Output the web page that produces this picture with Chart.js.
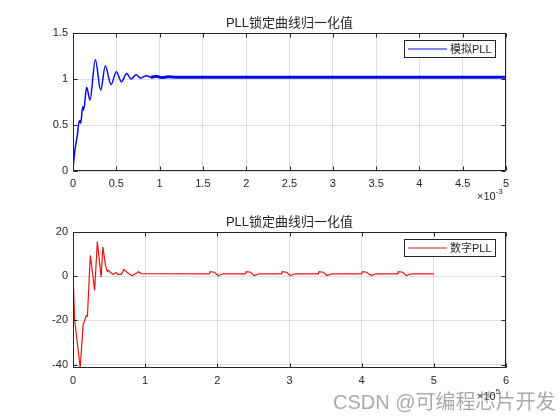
<!DOCTYPE html>
<html>
<head>
<meta charset="utf-8">
<script src="https://cdn.jsdelivr.net/npm/chart.js@4"></script>
<style>
  body { margin: 0; background: #fff; }
  #fig { position: relative; width: 560px; height: 420px; }
  canvas { position: absolute; left: 0; }
  #wm { position: absolute; left: 333px; top: 386px; font: 20px "Liberation Sans", "Noto Sans CJK SC", sans-serif;
        color: rgba(140,140,140,0.75); white-space: nowrap; }
</style>
</head>
<body>
<div id="fig">
  <canvas id="anaChart" width="560" height="210" style="top:0"></canvas>
  <canvas id="digChart" width="560" height="210" style="top:210px"></canvas>
  <div id="wm">CSDN @可编程芯片开发</div>
</div>
<script>
// data (x atas dalam 1e-3 s, x bawah dalam 1e5)
const titleText = 'PLL锁定曲线归一化值';

const anaX = [0, 0.027, 0.05, 0.066, 0.08, 0.089, 0.112, 0.123, 0.158, 0.196, 0.258, 0.32, 0.373, 0.44, 0.5, 0.56, 0.62, 0.67, 0.73, 0.78, 0.85, 0.9, 0.96, 1.02, 1.1, 1.2, 5];
const anaY = [0.03, 0.26, 0.39, 0.52, 0.55, 0.52, 0.70, 0.66, 0.91, 0.77, 1.21, 0.88, 1.14, 0.94, 1.08, 0.97, 1.06, 1.0, 1.045, 1.01, 1.035, 1.02, 1.03, 1.015, 1.025, 1.018, 1.018];
const anaXTicks = [0, 0.5, 1, 1.5, 2, 2.5, 3, 3.5, 4, 4.5, 5];
const anaYTicks = [0, 0.5, 1, 1.5];

const digX = [0, 0.023, 0.1, 0.14, 0.185, 0.2, 0.24, 0.30, 0.337, 0.39, 0.415, 0.45, 0.475, 0.49, 0.52, 0.554, 0.6, 0.62, 0.67, 0.706, 0.74, 0.785, 0.817, 0.85, 0.91, 0.946,
  1.89, 1.9, 1.96, 2.01, 2.08, 2.39, 2.4, 2.46, 2.51, 2.58, 2.89, 2.9, 2.96, 3.01, 3.08,
  3.40, 3.41, 3.47, 3.52, 3.59, 4.0, 4.01, 4.07, 4.13, 4.2, 4.5, 4.51, 4.57, 4.62, 4.69, 5.0];
const digY = [1, -19.7, -41.5, -22, -17.8, -18, 9.4, -6.3, 15.7, -0.3, 13.2, 4.9, 2.2, 2.7, 1.7, 0.9, 1.7, 0.8, 0.8, 3.1, 2, 0.9, 0.3, 0.8, 2, 1.2,
  1.1, 2.1, 1.8, 0.3, 1.1, 1.1, 2.1, 1.8, 0.3, 1.1, 1.1, 2.1, 1.8, 0.3, 1.1,
  1.1, 2.1, 1.8, 0.3, 1.1, 1.1, 2.1, 1.8, 0.3, 1.1, 1.1, 2.1, 1.8, 0.3, 1.1, 1.1];
const digXTicks = [0, 1, 2, 3, 4, 5, 6];
const digYTicks = [-40, -20, 0, 20];

const axCol = '#262626';
const gridCol = 'rgba(38,38,38,0.15)';
const fam = '"Liberation Sans", "Noto Sans CJK SC", sans-serif';

// kotak, tick ke dalam, judul, legenda, eksponen
const framePlugin = {
  id: 'frame',
  afterDraw(chart, args, opts) {
    const { ctx, chartArea: a, scales: { x, y } } = chart;
    ctx.save();
    ctx.strokeStyle = axCol;
    ctx.lineWidth = 1;
    const L = Math.round(a.left) + 0.5, R = Math.round(a.right) - 0.5;
    const T = Math.round(a.top) + 0.5, B = Math.round(a.bottom) - 0.5;
    ctx.strokeRect(L, T, R - L, B - T);
    ctx.beginPath();
    x.ticks.forEach(t => {
      const px = Math.round(x.getPixelForValue(t.value)) + 0.5;
      ctx.moveTo(px, B); ctx.lineTo(px, B - 4);
      ctx.moveTo(px, T); ctx.lineTo(px, T + 4);
    });
    y.ticks.forEach(t => {
      const py = Math.round(y.getPixelForValue(t.value)) + 0.5;
      ctx.moveTo(L, py); ctx.lineTo(L + 4, py);
      ctx.moveTo(R, py); ctx.lineTo(R - 4, py);
    });
    ctx.stroke();

    // judul
    ctx.fillStyle = axCol;
    ctx.font = '13px ' + fam;
    ctx.textAlign = 'center';
    ctx.textBaseline = 'middle';
    ctx.fillText(opts.title, (a.left + a.right) / 2, a.top - 10);

    // legenda
    const ds = chart.data.datasets[0];
    ctx.fillStyle = '#fff';
    ctx.fillRect(404.5, a.top + 7.5, 91, 17);
    ctx.strokeRect(404.5, a.top + 7.5, 91, 17);
    ctx.strokeStyle = ds.borderColor;
    ctx.beginPath();
    ctx.moveTo(408, a.top + 16); ctx.lineTo(447, a.top + 16);
    ctx.stroke();
    ctx.fillStyle = axCol;
    ctx.font = '11px ' + fam;
    ctx.textAlign = 'left';
    ctx.fillText(ds.label, 450, a.top + 16.5);

    // eksponen sumbu x
    ctx.font = '11px ' + fam;
    ctx.fillText('\u00d710', 477, a.bottom + opts.expDy);
    const w = ctx.measureText('\u00d710').width;
    ctx.font = '8px ' + fam;
    ctx.fillText(opts.exp, 477 + w, a.bottom + opts.expDy - 5);
    ctx.restore();
  }
};

const fmt = v => String(+Number(v).toFixed(6));

function makeOptions(xTicks, yTicks, xMax, yMin, yMax, pad, xH, exp, expDy) {
  return {
    responsive: false,
    animation: false,
    layout: { padding: pad },
    plugins: {
      legend: { display: false },
      tooltip: { enabled: false },
      frame: { title: titleText, exp: exp, expDy: expDy }
    },
    scales: {
      x: {
        type: 'linear', min: 0, max: xMax,
        afterBuildTicks: s => { s.ticks = xTicks.map(v => ({ value: v })); },
        afterFit: s => { s.height = xH; },
        grid: { color: gridCol, drawTicks: false },
        border: { display: false },
        ticks: { color: axCol, padding: 6, maxRotation: 0, callback: fmt, font: { size: 11, family: fam } }
      },
      y: {
        min: yMin, max: yMax,
        afterBuildTicks: s => { s.ticks = yTicks.map(v => ({ value: v })); },
        afterFit: s => { s.width = 73; },
        grid: { color: gridCol, drawTicks: false },
        border: { display: false },
        ticks: { color: axCol, padding: 5, callback: fmt, font: { size: 11, family: fam } }
      }
    }
  };
}

document.addEventListener('DOMContentLoaded', function () {
  new Chart(document.getElementById('anaChart'), {
    type: 'line',
    data: {
      datasets: [{
        label: '模拟PLL',
        data: anaX.map((v, i) => ({ x: v, y: anaY[i] })),
        borderColor: '#0a0af0',
        borderWidth: 1.5,
        pointRadius: 0,
        cubicInterpolationMode: 'monotone',
        segment: { borderWidth: c => (c.p0.parsed.x >= 0.9 ? 3 : 1.5) }
      }]
    },
    options: makeOptions(anaXTicks, anaYTicks, 5, 0, 1.5, { top: 33, right: 54, left: 0, bottom: 0 }, 39, '-3', 26),
    plugins: [framePlugin]
  });

  new Chart(document.getElementById('digChart'), {
    type: 'line',
    data: {
      datasets: [{
        label: '数字PLL',
        data: digX.map((v, i) => ({ x: v, y: digY[i] })),
        borderColor: '#ee1111',
        borderWidth: 1.2,
        pointRadius: 0,
        tension: 0
      }]
    },
    options: makeOptions(digXTicks, digYTicks, 6, -41.5, 20, { top: 22, right: 54, left: 0, bottom: 0 }, 52, '5', 29),
    plugins: [framePlugin]
  });
});
</script>
</body>
</html>
